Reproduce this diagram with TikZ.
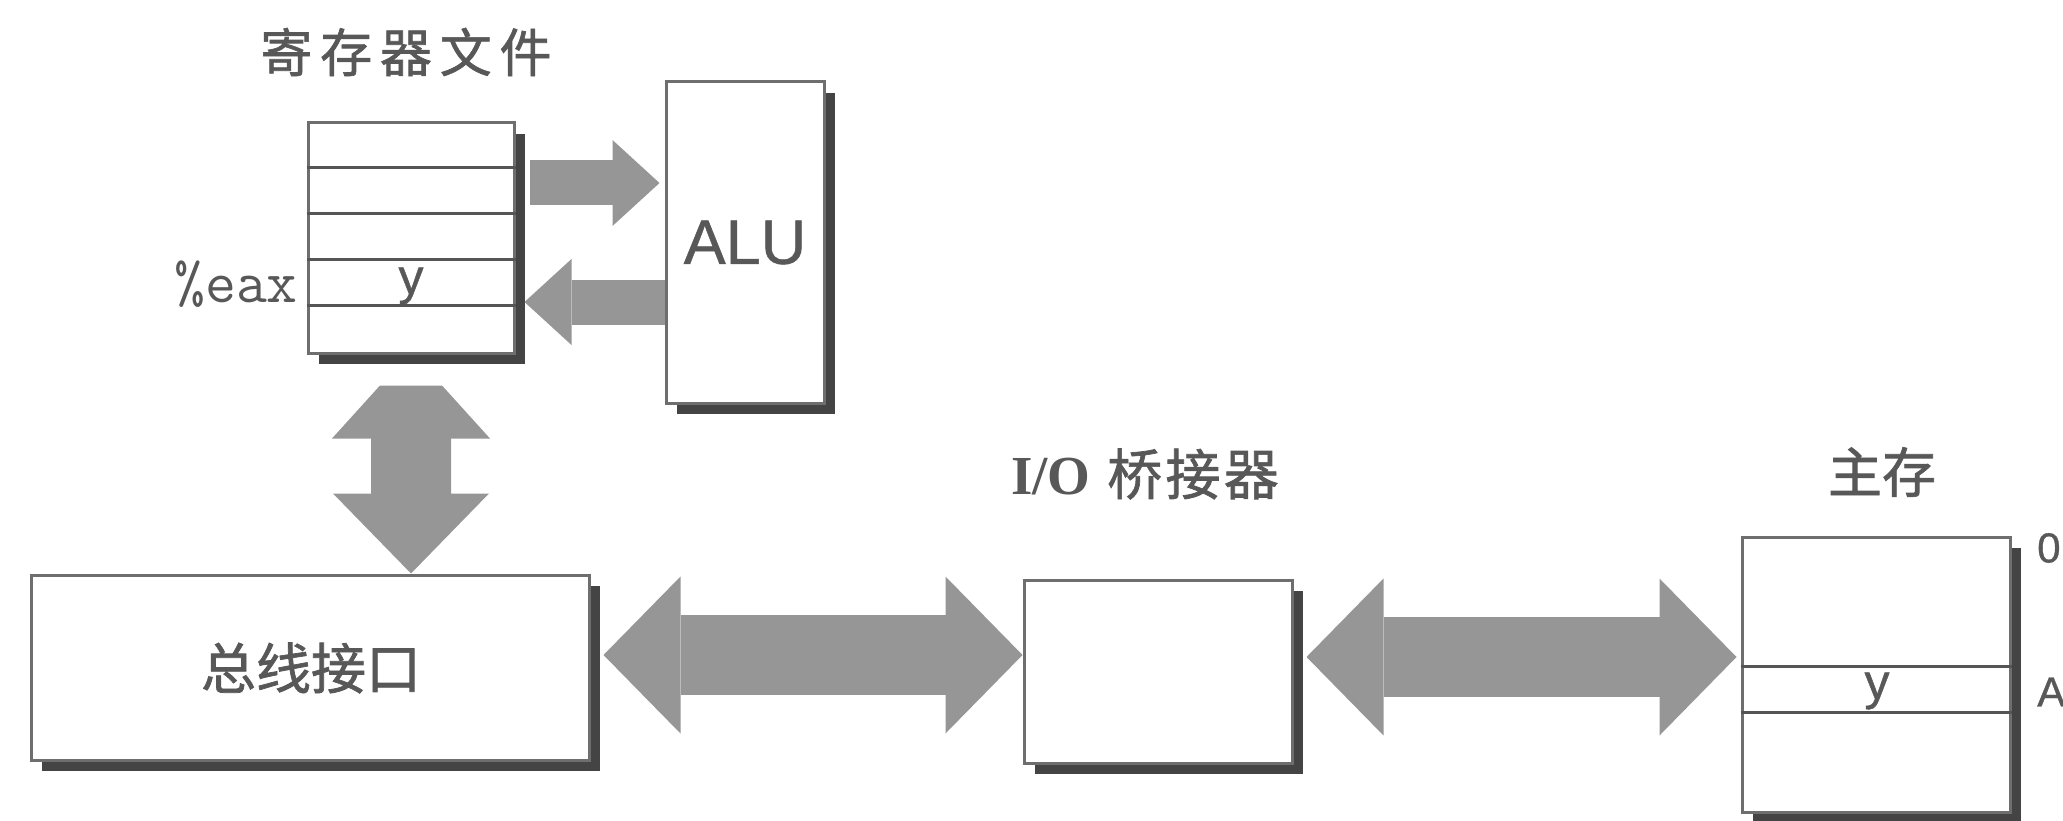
\documentclass[tikz,border=0pt]{standalone}
\usepackage{fontspec}
\newfontfamily\cjk[FakeBold=1.3]{Noto Sans CJK SC}
\newfontfamily\sansf[FakeBold=0.8]{Liberation Sans}
\newfontfamily\seriff{Liberation Serif}
\usetikzlibrary{arrows.meta,shadows,calc}
\definecolor{txtcol}{RGB}{88,88,88}
\definecolor{bordercol}{RGB}{110,110,110}
\definecolor{shadowcol}{RGB}{68,68,68}
\definecolor{arrowcol}{RGB}{150,150,150}
\definecolor{rowcol}{RGB}{85,85,85}
\tikzset{
  box/.style={draw=bordercol, line width=3pt, fill=white, inner sep=0pt,
    drop shadow={shadow xshift=11pt, shadow yshift=-11pt, fill=shadowcol, opacity=1}},
  rowline/.style={draw=rowcol, line width=3pt},
  lbl/.style={text=txtcol, inner sep=0pt},
  smallfat/.style={draw=arrowcol, line width=45pt,
    -{Triangle[width=86pt, length=47pt, line width=0pt]}},
  bigfat/.style={draw=arrowcol, line width=80pt,
    {Triangle[width=157pt, length=77pt, line width=0pt]}-{Triangle[width=157pt, length=77pt, line width=0pt]}}
}
\begin{document}
\begin{tikzpicture}[x=1pt, y=-1pt]
\useasboundingbox (0,0) rectangle (2063,821);

% boxes
\node[box, minimum width=206pt, minimum height=230pt] (reg) at (411,238) {};
\node[box, minimum width=158pt, minimum height=321pt] (alu) at (745,242.5) {};
\node[box, minimum width=558pt, minimum height=185pt] (bus) at (310,667.5) {};
\node[box, minimum width=268pt, minimum height=183pt] (bridge) at (1158,671.5) {};
\node[box, minimum width=268pt, minimum height=275pt] (mem) at (1876,674.5) {};

% register rows
\foreach \k in {1,2,3,4}
  \draw[rowline] ($(reg.north west)+(0,46*\k)$) -- ($(reg.north east)+(0,46*\k)$);
% memory rows
\draw[rowline] ($(mem.north west)+(0,131)$) -- ($(mem.north east)+(0,131)$);
\draw[rowline] ($(mem.north west)+(0,177)$) -- ($(mem.north east)+(0,177)$);

% labels
\node[lbl, font=\cjk\fontsize{52}{60}\selectfont\addfontfeature{LetterSpace=15}] (tReg) at (406,52) {寄存器文件};
\node[lbl, font=\ttfamily\fontsize{60}{66}\selectfont, anchor=east] (eax) at (298,284) {\%eax};
\node[lbl, font=\sansf\fontsize{50}{60}\selectfont, anchor=base] (yReg) at (411,294) {y};
\node[lbl, font=\sansf\fontsize{63}{70}\selectfont] (tAlu) at (alu.center) {ALU};
\node[lbl, font=\cjk\fontsize{55}{60}\selectfont] (tBus) at (311,668) {总线接口};
\node[lbl, font=\fontsize{55}{60}\selectfont] (tBridge) at (1145,474) {{\seriff\bfseries I/O} {\cjk\addfontfeature{LetterSpace=6}桥接器}};
\node[lbl, font=\cjk\fontsize{54}{60}\selectfont] (tMem) at (1882,472) {主存};
\node[lbl, font=\sansf\fontsize{50}{60}\selectfont, anchor=base] (yMem) at (1877,699) {y};
\node[lbl, font=\sansf\fontsize{42}{50}\selectfont, anchor=west] (a0) at (2037,548) {0};
\node[lbl, font=\sansf\fontsize{42}{50}\selectfont, anchor=west] (aA) at (2037,692) {A};

% arrows register <-> ALU
\coordinate (r1) at ($(reg.east |- 0,183)+(14,0)$);
\coordinate (a1) at ($(alu.west |- 0,183)+(-5,0)$);
\draw[smallfat] (r1) -- (a1);
\coordinate (a2) at ($(alu.west |- 0,302)$);
\coordinate (r2) at ($(reg.east |- 0,302)+(9,0)$);
\draw[smallfat] (a2) -- (r2);

% vertical double arrow register <-> bus interface
\coordinate (vb) at (reg.south |- bus.north);
\fill[arrowcol] (vb) -- ++(-78,-80) -- ++(38,0) -- ++(0,-55) -- ++(-39,0) -- ++(48,-53)
  -- ++(62,0) -- ++(48,53) -- ++(-39,0) -- ++(0,55) -- ++(38,0) -- cycle;

% bus <-> bridge
\draw[bigfat] ($(bus.east |- 0,655)+(13,0)$) -- ($(bridge.west |- 0,655)$);
% bridge <-> memory
\draw[bigfat] ($(bridge.east |- 0,657)+(13,0)$) -- ($(mem.west |- 0,657)+(-4,0)$);
\end{tikzpicture}
\end{document}
